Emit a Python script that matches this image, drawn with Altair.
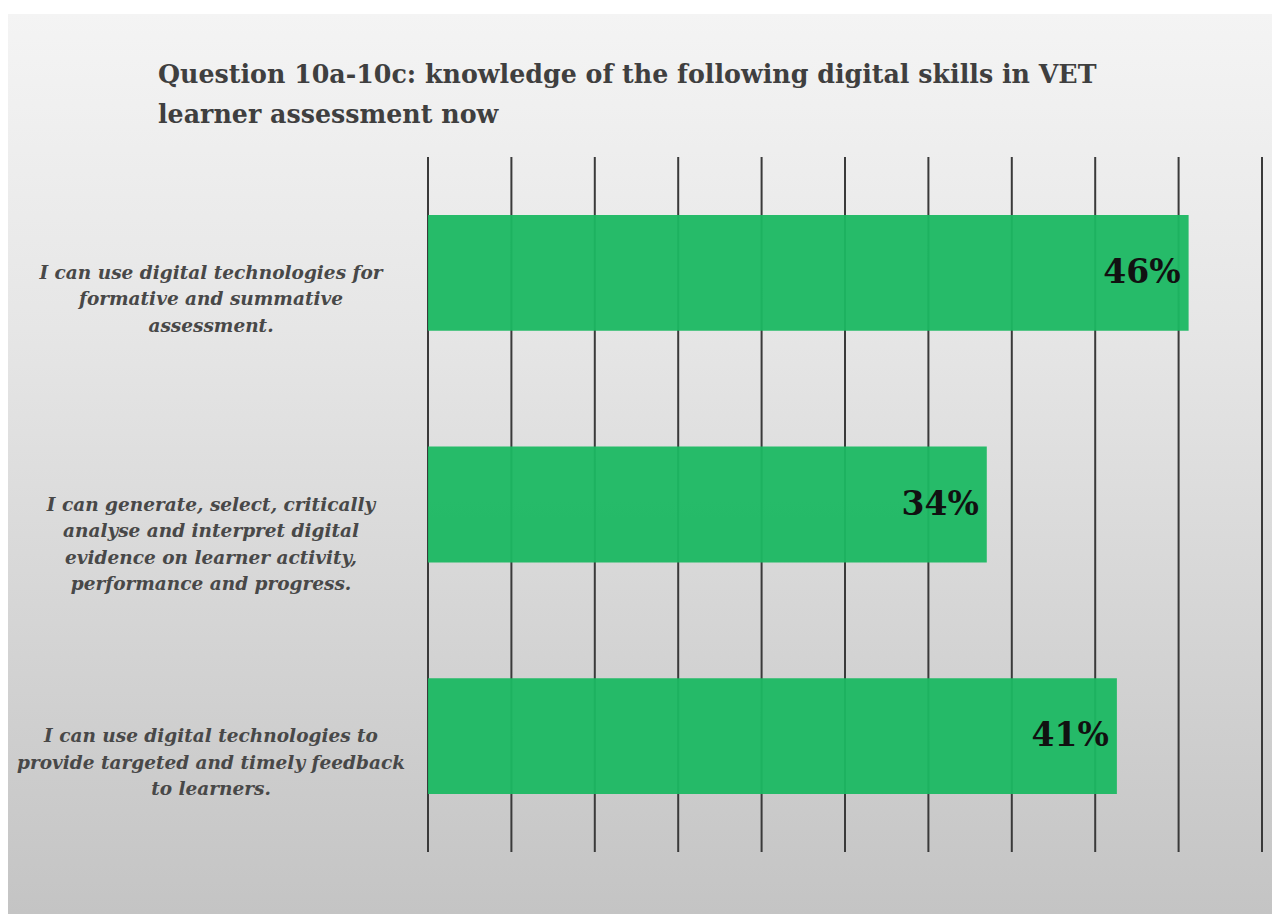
import altair as alt
import pandas as pd

title_lines = ["Question 10a-10c: knowledge of the following digital skills in VET",
               "learner assessment now"]
categories = [
    "I can use digital technologies for\nformative and summative\nassessment.",
    "I can generate, select, critically\nanalyse and interpret digital\nevidence on learner activity,\nperformance and progress.",
    "I can use digital technologies to\nprovide targeted and timely feedback\nto learners.",
]
values = [0.456, 0.335, 0.413]
value_labels = ["46%", "34%", "41%"]
grid_values = [0.0, 0.05, 0.10, 0.15, 0.20, 0.25, 0.30, 0.35, 0.40, 0.45, 0.50]

df = pd.DataFrame({"cat": categories, "value": values, "label": value_labels})
grid_df = pd.DataFrame({"v": grid_values})
title_df = pd.DataFrame({"t": ["\n".join(title_lines)]})

W, H = 834, 695
PL, PT = 428, 157

xscale = alt.Scale(domain=[0, 0.5], nice=False, zero=True)
yscale = alt.Scale(paddingInner=0.5, paddingOuter=0.25)

bg = alt.Chart(title_df).mark_rect(
    fill=alt.Gradient(
        gradient="linear",
        stops=[alt.GradientStop(color="#f4f4f4", offset=0),
               alt.GradientStop(color="#e6e6e6", offset=0.35),
               alt.GradientStop(color="#c4c4c4", offset=1)],
        x1=0, x2=0, y1=0, y2=1,
    )
).encode(x=alt.value(8 - PL), x2=alt.value(1272 - PL), y=alt.value(14 - PT), y2=alt.value(914 - PT))

grid = alt.Chart(grid_df).mark_rule(color="#3a3a3a", strokeWidth=2).encode(
    x=alt.X("v:Q", scale=xscale, axis=None)
)

bars = alt.Chart(df).mark_bar(color="#1bb862", opacity=0.95).encode(
    x=alt.X("value:Q", scale=xscale, axis=None),
    y=alt.Y("cat:N", sort=categories, scale=yscale, axis=None),
)

vals = alt.Chart(df).mark_text(
    align="right", baseline="middle", dx=-8, dy=0,
    font="DejaVu Serif", fontWeight="bold", fontSize=33, color="#111111",
).encode(
    x=alt.X("value:Q", scale=xscale, axis=None),
    y=alt.Y("cat:N", sort=categories, scale=yscale, axis=None),
    text="label:N",
)

cat_labels = alt.Chart(df).mark_text(
    align="center", baseline="middle", lineBreak="\n", lineHeight=26.5,
    font="DejaVu Serif", fontStyle="italic", fontWeight="bold", fontSize=18.5, color="#484848",
).encode(
    x=alt.value(211 - PL),
    y=alt.Y("cat:N", sort=categories, scale=yscale, axis=None),
    text="cat:N",
)

title = alt.Chart(title_df).mark_text(
    align="left", baseline="alphabetic", lineBreak="\n", lineHeight=40,
    font="DejaVu Serif", fontWeight="bold", fontSize=25.3, color="#3f3f3f",
).encode(x=alt.value(158 - PL), y=alt.value(83 - PT), text="t:N")

chart = alt.layer(bg, grid, bars, vals, cat_labels, title).properties(
    width=W, height=H,
    padding={"left": PL, "top": PT, "right": 1272 - PL - W, "bottom": 914 - PT - H},
    autosize=alt.AutoSizeParams(type="none"),
    background="#ffffff",
).configure_view(stroke=None)

chart.save("out.html", embed_options={"renderer": "svg", "actions": False})
